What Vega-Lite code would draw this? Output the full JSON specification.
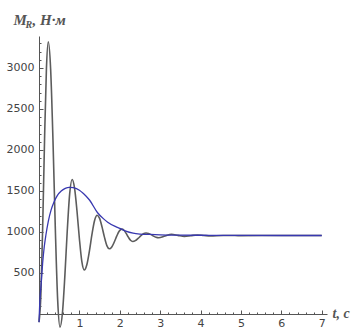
{
  "$schema": "https://vega.github.io/schema/vega-lite/v6.json",
  "autosize": {"type": "none"},
  "padding": {"left": 39, "top": 36, "right": 31, "bottom": 15},
  "width": 288,
  "height": 278,
  "background": "white",
  "config": {"view": {"stroke": null}},
  "datasets": {
    "moment": [
      {"t": 0, "v": -100}, {"t": 0.046, "v": 227}, {"t": 0.092, "v": 1082}, {"t": 0.138, "v": 2138}, {"t": 0.184, "v": 2993}, {"t": 0.23, "v": 3320},
      {"t": 0.288, "v": 2988}, {"t": 0.346, "v": 2118}, {"t": 0.404, "v": 1042}, {"t": 0.462, "v": 172}, {"t": 0.52, "v": -160},
      {"t": 0.58, "v": 12}, {"t": 0.64, "v": 462}, {"t": 0.7, "v": 1018}, {"t": 0.76, "v": 1468}, {"t": 0.82, "v": 1640},
      {"t": 0.88, "v": 1535}, {"t": 0.94, "v": 1259}, {"t": 1.0, "v": 918}, {"t": 1.06, "v": 642}, {"t": 1.12, "v": 537},
      {"t": 1.184, "v": 601}, {"t": 1.248, "v": 768}, {"t": 1.312, "v": 974}, {"t": 1.376, "v": 1141}, {"t": 1.44, "v": 1205},
      {"t": 1.5, "v": 1166}, {"t": 1.56, "v": 1063}, {"t": 1.62, "v": 937}, {"t": 1.68, "v": 834}, {"t": 1.74, "v": 795},
      {"t": 1.802, "v": 818}, {"t": 1.864, "v": 878}, {"t": 1.926, "v": 952}, {"t": 1.988, "v": 1012}, {"t": 2.05, "v": 1035},
      {"t": 2.104, "v": 1021}, {"t": 2.158, "v": 983}, {"t": 2.212, "v": 937}, {"t": 2.266, "v": 899}, {"t": 2.32, "v": 885},
      {"t": 2.386, "v": 895}, {"t": 2.452, "v": 921}, {"t": 2.518, "v": 952}, {"t": 2.584, "v": 978}, {"t": 2.65, "v": 988},
      {"t": 2.712, "v": 982}, {"t": 2.774, "v": 968}, {"t": 2.836, "v": 950}, {"t": 2.898, "v": 936}, {"t": 2.96, "v": 930},
      {"t": 3.12, "v": 951}, {"t": 3.28, "v": 972}, {"t": 3.44, "v": 959}, {"t": 3.6, "v": 946},
      {"t": 3.76, "v": 955}, {"t": 3.92, "v": 964}, {"t": 4.08, "v": 958}, {"t": 4.24, "v": 952},
      {"t": 4.56, "v": 958}, {"t": 5.0, "v": 956}, {"t": 6.0, "v": 957}, {"t": 7.0, "v": 957}
    ],
    "envelope": [
      {"t": 0, "v": -100}, {"t": 0.02, "v": 150}, {"t": 0.05, "v": 350}, {"t": 0.09, "v": 620}, {"t": 0.13, "v": 820},
      {"t": 0.17, "v": 960}, {"t": 0.23, "v": 1130}, {"t": 0.3, "v": 1270}, {"t": 0.38, "v": 1375}, {"t": 0.46, "v": 1450},
      {"t": 0.55, "v": 1500}, {"t": 0.65, "v": 1532}, {"t": 0.75, "v": 1545}, {"t": 0.85, "v": 1540}, {"t": 1.0, "v": 1510},
      {"t": 1.1, "v": 1470}, {"t": 1.25, "v": 1390}, {"t": 1.45, "v": 1235}, {"t": 1.6, "v": 1160}, {"t": 1.7, "v": 1120},
      {"t": 1.9, "v": 1065}, {"t": 2.0, "v": 1045}, {"t": 2.15, "v": 1010}, {"t": 2.33, "v": 985}, {"t": 2.5, "v": 975},
      {"t": 2.75, "v": 970}, {"t": 3.0, "v": 966}, {"t": 3.5, "v": 962}, {"t": 4.0, "v": 960}, {"t": 5.0, "v": 958},
      {"t": 6.0, "v": 957}, {"t": 7.0, "v": 957}
    ]
  },
  "layer": [
    {
      "data": {"name": "moment"},
      "mark": {"type": "line", "color": "#5c5c5c", "strokeWidth": 1.6, "interpolate": "monotone", "clip": false},
      "encoding": {
        "x": {
          "field": "t", "type": "quantitative",
          "scale": {"domain": [0, 7.13], "nice": false, "zero": false},
          "axis": {
            "orient": "bottom", "values": [1, 2, 3, 4, 5, 6, 7], "format": "d", "grid": false,
            "tickSize": -4, "tickColor": "#555555", "domainColor": "#555555",
            "labelPadding": 7, "labelFont": "DejaVu Sans", "labelFontSize": 11, "labelColor": "#444444",
            "title": "t, c", "titleAngle": 0, "titleX": 293, "titleY": 3, "titleAlign": "left", "titleBaseline": "alphabetic",
            "titleFont": "Liberation Serif", "titleFontStyle": "italic", "titleFontWeight": "bold", "titleFontSize": 14, "titleColor": "#555555"
          }
        },
        "y": {
          "field": "v", "type": "quantitative",
          "scale": {"domain": [0, 3390], "nice": false, "zero": false},
          "axis": {
            "orient": "left", "values": [500, 1000, 1500, 2000, 2500, 3000], "format": "d", "grid": false,
            "tickSize": -4, "tickColor": "#555555", "domainColor": "#555555",
            "labelPadding": 9, "labelFont": "DejaVu Sans", "labelFontSize": 11, "labelColor": "#444444",
            "title": "M", "titleAngle": 0, "titleX": -26, "titleY": -12, "titleAlign": "left", "titleBaseline": "alphabetic",
            "titleFont": "Liberation Serif", "titleFontStyle": "italic", "titleFontWeight": "bold", "titleFontSize": 15, "titleColor": "#555555"
          }
        }
      }
    },
    {
      "data": {"name": "envelope"},
      "mark": {"type": "line", "color": "#3838b0", "strokeWidth": 1.3, "interpolate": "monotone", "clip": false},
      "encoding": {
        "x": {
          "field": "t", "type": "quantitative",
          "axis": {
            "orient": "bottom", "grid": false, "domain": false, "labels": false,
            "values": [0.2, 0.4, 0.6, 0.8, 1.2, 1.4, 1.6, 1.8, 2.2, 2.4, 2.6, 2.8, 3.2, 3.4, 3.6, 3.8, 4.2, 4.4, 4.6, 4.8, 5.2, 5.4, 5.6, 5.8, 6.2, 6.4, 6.6, 6.8, 7.2],
            "tickSize": -2, "tickColor": "#555555",
            "title": ", Н·м", "titleAngle": 0, "titleX": -7, "titleY": -290, "titleAlign": "left", "titleBaseline": "alphabetic",
            "titleFont": "Liberation Serif", "titleFontStyle": "italic", "titleFontWeight": "bold", "titleFontSize": 15, "titleColor": "#555555"
          }
        },
        "y": {
          "field": "v", "type": "quantitative",
          "axis": {
            "orient": "left", "grid": false, "domain": false, "labels": false,
            "values": [100, 200, 300, 400, 600, 700, 800, 900, 1100, 1200, 1300, 1400, 1600, 1700, 1800, 1900, 2100, 2200, 2300, 2400, 2600, 2700, 2800, 2900, 3100, 3200, 3300],
            "tickSize": -2, "tickColor": "#555555",
            "title": "R", "titleAngle": 0, "titleX": -14, "titleY": -9, "titleAlign": "left", "titleBaseline": "alphabetic",
            "titleFont": "Liberation Serif", "titleFontStyle": "italic", "titleFontWeight": "bold", "titleFontSize": 10, "titleColor": "#555555"
          }
        }
      }
    }
  ],
  "resolve": {"axis": {"x": "independent", "y": "independent"}}
}
